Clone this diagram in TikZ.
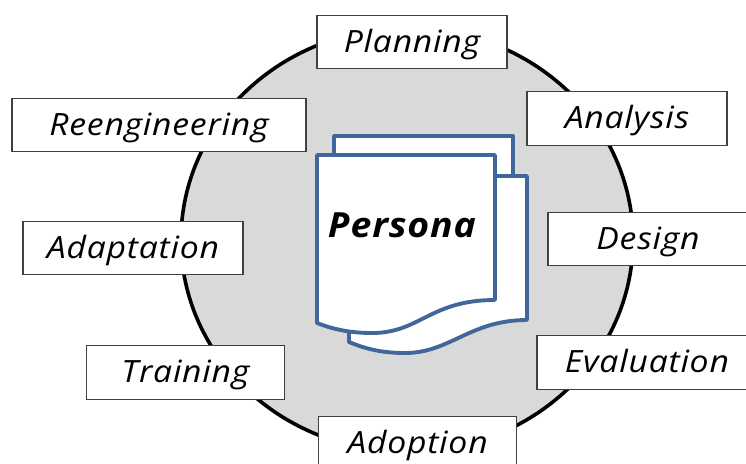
\documentclass[tikz,border=0pt]{standalone}
\usepackage{fontspec}
\setmainfont{Open Sans}
\definecolor{discgray}{HTML}{D9D9D9}
\definecolor{sheetblue}{HTML}{41669A}
\definecolor{boxgray}{HTML}{404040}
\tikzset{
  phasebox/.style={draw=boxgray,line width=0.8pt,fill=white,minimum height=40pt,inner sep=0pt,text height=20pt,text depth=5pt,font=\fontsize{23}{26}\selectfont\itshape\addfontfeature{FakeStretch=1.1,LetterSpace=2.5}},
  sheet/.style={draw=sheetblue,line width=2.9pt,fill=white,line join=round}
}
\begin{document}
\begin{tikzpicture}[x=0.75pt,y=0.75pt,yscale=-1,xscale=1]
	\useasboundingbox (0,0) rectangle (746,464);
	\draw [line width=2.7pt,fill=discgray] (407,240) ellipse (226 and 212);

	\draw [sheet] (334,176) -- (334,136) -- (513,136) -- (513,176);
	\draw [sheet] (349,320) -- (349,176) -- (527,176) -- (527,320) .. controls (470,320) and (450,353) .. (405,353) .. controls (385,353) and (368,350) .. (349,342) -- cycle;
	\draw [sheet] (317,155) -- (495,155) -- (495,300) .. controls (430,300) and (420,333) .. (372,333) .. controls (352,333) and (335,330) .. (317,323) -- cycle;

	\node (persona) [font=\fontsize{26}{30}\selectfont\bfseries\itshape\addfontfeature{FakeStretch=1.08,LetterSpace=2.5}] at (402,225) {Persona};
	\node (planning) [phasebox,minimum width=142.5pt] at (412,42) {Planning};
	\node (analysis) [phasebox,minimum width=150pt] at (627,118.5) {Analysis};
	\node (reengineering) [phasebox,minimum width=220.5pt] at (159,125) {Reengineering};
	\node (design) [phasebox,minimum width=150pt] at (648,239) {Design};
	\node (adaptation) [phasebox,minimum width=165pt] at (133,248) {Adaptation};
	\node (evaluation) [phasebox,minimum width=157.5pt] at (642,362.5) {\hspace*{7.5pt}Evaluation};
	\node (training) [phasebox,minimum width=149pt] at (185.5,372.5) {Training};
	\node (adoption) [phasebox,minimum width=149pt] at (417.5,443) {Adoption};
\end{tikzpicture}
\end{document}
